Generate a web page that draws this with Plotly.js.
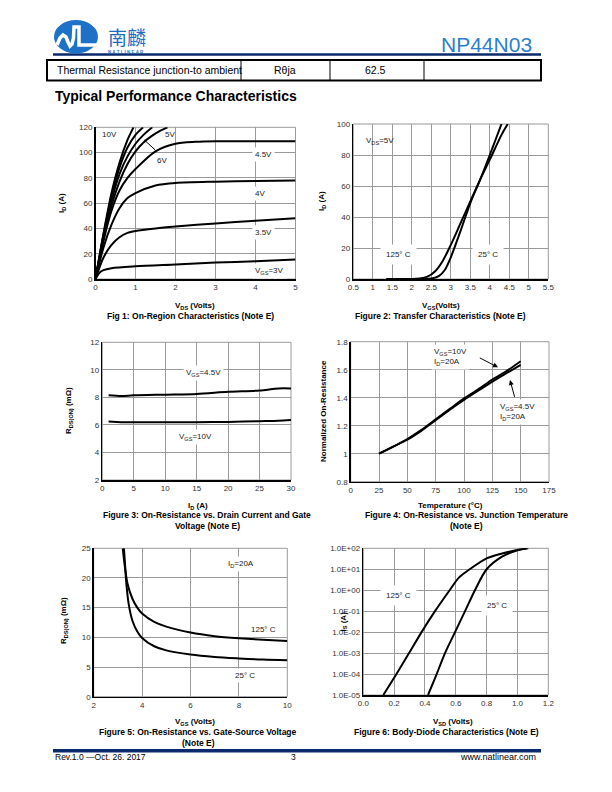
<!DOCTYPE html>
<html><head><meta charset="utf-8">
<script src="https://cdn.plot.ly/plotly-3.0.1.min.js"></script>
<style>html,body{margin:0;padding:0;background:#fff}#chart{width:612px;height:792px}</style>
</head><body><div id="chart"></div>
<script>
// ---------- DATA ----------
// Fig 1: On-region characteristics (VDS V, ID A)
const fig1_vgs10_x = [0,0.2,0.4,0.6,0.8,0.95];
const fig1_vgs10_y = [0,36,68,92,110,120];
const fig1_vgsX_x  = [0,0.2,0.4,0.6,0.8,1.0,1.19];
const fig1_vgsX_y  = [0,35,65,88,104,114,120];
const fig1_vgs6_x  = [0,0.2,0.4,0.6,0.8,1.0,1.2,1.42];
const fig1_vgs6_y  = [0,34,62,83,97,107,114,120];
const fig1_vgs5_x  = [0,0.2,0.4,0.6,0.8,1.0,1.2,1.4,1.6,1.8];
const fig1_vgs5_y  = [0,32,58,77,91,101,108,113,117,120];
const fig1_vgs45_x = [0,0.2,0.4,0.6,0.8,1.0,1.5,2,2.5,3,4,5];
const fig1_vgs45_y = [0,30,54,70,80,87,101,107,108.5,109,109,109];
const fig1_vgs4_x  = [0,0.2,0.4,0.6,0.8,1.0,1.5,2,3,4,5];
const fig1_vgs4_y  = [0,25,43,56,64,68,74,76,77,77.5,78];
const fig1_vgs35_x = [0,0.2,0.4,0.6,0.8,1,1.5,2,3,4,5];
const fig1_vgs35_y = [0,17,27,33,36.5,38,40,41.5,44,46,48];
const fig1_vgs3_x  = [0,0.1,0.2,0.4,1,2,3,4,5];
const fig1_vgs3_y  = [0,5,7,8.5,10,11.5,13,14,15.5];

// Fig 2: Transfer characteristics (VGS V, ID A)
const fig2_t125_x = [1.35,2.0,2.2,2.4,2.6,2.8,3.0,3.25,3.5,3.75,4.0,4.3,4.46];
const fig2_t125_y = [0,0,0.3,1.5,5,12,22,36,50,64,77,93,100];
const fig2_t25_x  = [1.35,2.3,2.5,2.7,2.85,3.0,3.25,3.5,3.75,4.0,4.15,4.3];
const fig2_t25_y  = [0,0,0.3,2,6,14,31,49,64,80,90,100];

// Fig 3: RDS(ON) vs ID (A, mOhm)
const fig3_id = [1,3,5,10,15,20,25,28,30];
const fig3_vgs45 = [8.15,8.1,8.15,8.2,8.25,8.4,8.5,8.65,8.65];
const fig3_vgs10 = [6.25,6.2,6.2,6.2,6.2,6.22,6.27,6.3,6.35];

// Fig 4: Normalized RDS(ON) vs temperature
const fig4_temp = [25,37.5,50,62.5,75,87.5,100,112.5,125,137.5,150];
const fig4_vgs10 = [1.0,1.05,1.105,1.17,1.245,1.32,1.395,1.46,1.53,1.59,1.66];
const fig4_vgs45 = [1.0,1.05,1.1,1.165,1.24,1.315,1.385,1.45,1.515,1.575,1.635];

// Fig 5: RDS(ON) vs VGS (V, mOhm)
const fig5_t125_x = [3.2,3.3,3.4,3.6,3.8,4,4.5,5,6,7,8,9,10];
const fig5_t125_y = [25,21.5,19,16.5,15,14,12.6,11.8,10.8,10.2,9.85,9.6,9.4];
const fig5_t25_x  = [3.25,3.3,3.35,3.45,3.6,3.8,4,4.5,5,6,7,8,9,10];
const fig5_t25_y  = [25,22,19,15.5,12.8,11,9.9,8.5,7.8,7.1,6.7,6.45,6.25,6.15];

// Fig 6: Body diode (VSD V, IS A)
const fig6_t125_x = [0.13,0.215,0.297,0.378,0.465,0.56,0.62,0.69,0.8,0.9,1.0,1.06];
const fig6_t125_y = [1e-5,1e-4,1e-3,1e-2,1e-1,1,4,10,33,56,83,100];
const fig6_t25_x  = [0.42,0.476,0.53,0.595,0.66,0.724,0.8,0.9,1.0,1.07];
const fig6_t25_y  = [1e-5,1e-4,1e-3,1e-2,1e-1,1,10,40,80,100];
const fig6_tickvals = [1e-5,1e-4,1e-3,1e-2,1e-1,1,10,100];
const fig6_ticktext = ["1.0E-05","1.0E-04","1.0E-03","1.0E-02","1.0E-01","1.0E+00","1.0E+01","1.0E+02"];

// ---------- LAYOUT HELPERS ----------
const W = 612, H = 792;
const px = x => x / W;
const py = y => 1 - y / H;
const FONT = 'Arial, "Liberation Sans", sans-serif';
const GRID = '#9a9a9a';

function xa(x0, x1, anchor, extra) {
  return Object.assign({domain:[px(x0),px(x1)], anchor:anchor, showgrid:true, gridcolor:GRID, gridwidth:1,
    showline:true, linecolor:'#000', linewidth:1.5, ticks:'', zeroline:false, automargin:false,
    tickfont:{family:FONT,size:8,color:'#333'}, fixedrange:true}, extra);
}
function ya(y0, y1, anchor, extra) {
  return Object.assign({domain:[py(y1),py(y0)], anchor:anchor, showgrid:true, gridcolor:GRID, gridwidth:1,
    showline:true, linecolor:'#000', linewidth:1.5, ticks:'', zeroline:false, automargin:false,
    tickfont:{family:FONT,size:8,color:'#333'}, fixedrange:true}, extra);
}
function line(x, y, xaxis, yaxis, name) {
  return {x:x, y:y, xaxis:xaxis, yaxis:yaxis, name:name, type:'scatter', mode:'lines',
    line:{color:'#000', width:2, shape:'spline', smoothing:0.8}, showlegend:false, hoverinfo:'skip'};
}

const data = [
  line(fig1_vgs10_x, fig1_vgs10_y, 'x', 'y', 'VGS=10V'),
  line(fig1_vgsX_x, fig1_vgsX_y, 'x', 'y', 'VGS (unlabelled)'),
  line(fig1_vgs6_x, fig1_vgs6_y, 'x', 'y', 'VGS=6V'),
  line(fig1_vgs5_x, fig1_vgs5_y, 'x', 'y', 'VGS=5V'),
  line(fig1_vgs45_x, fig1_vgs45_y, 'x', 'y', 'VGS=4.5V'),
  line(fig1_vgs4_x, fig1_vgs4_y, 'x', 'y', 'VGS=4V'),
  line(fig1_vgs35_x, fig1_vgs35_y, 'x', 'y', 'VGS=3.5V'),
  line(fig1_vgs3_x, fig1_vgs3_y, 'x', 'y', 'VGS=3V'),
  line(fig2_t125_x, fig2_t125_y, 'x2', 'y2', '125C'),
  line(fig2_t25_x, fig2_t25_y, 'x2', 'y2', '25C'),
  line(fig3_id, fig3_vgs45, 'x3', 'y3', 'VGS=4.5V'),
  line(fig3_id, fig3_vgs10, 'x3', 'y3', 'VGS=10V'),
  line(fig4_temp, fig4_vgs10, 'x4', 'y4', 'VGS=10V'),
  line(fig4_temp, fig4_vgs45, 'x4', 'y4', 'VGS=4.5V'),
  line(fig5_t125_x, fig5_t125_y, 'x5', 'y5', '125C'),
  line(fig5_t25_x, fig5_t25_y, 'x5', 'y5', '25C'),
  line(fig6_t125_x, fig6_t125_y, 'x6', 'y6', '125C'),
  line(fig6_t25_x, fig6_t25_y, 'x6', 'y6', '25C')
];

const ann = [];
function T(text, x, y, o) {
  ann.push(Object.assign({text:text, x:x, y:y, xref:'paper', yref:'paper', showarrow:false,
    font:{family:FONT, size:8, color:'#000'}, xanchor:'center', yanchor:'middle'}, o||{}));
}
function TP(text, xpix, ypix, o) { T(text, px(xpix), py(ypix), o); }
function D(text, x, y, xr, yr, o) {
  ann.push(Object.assign({text:text, x:x, y:y, xref:xr, yref:yr, showarrow:false,
    font:{family:FONT, size:8, color:'#222'}, xanchor:'center', yanchor:'middle'}, o||{}));
}
const WB = {bgcolor:'#fff', borderpad:2};
const BOLD8 = {family:FONT, size:8, color:'#000', weight:'bold'};
const BOLD85 = {family:FONT, size:8.5, color:'#000', weight:'bold'};

// Header texts
TP('NP44N03', 487, 45, {font:{family:FONT, size:21, color:'#2a7fd0'}});
TP('南麟', 127, 36.5, {font:{family:'"Noto Sans CJK SC"', size:19, color:'#1d6ec2'}});
TP('N A T L I N E A R', 126, 52.3, {font:{family:FONT, size:4.5, color:'#1d6ec2', weight:'bold'}});
TP('Thermal Resistance junction-to ambient', 55, 70.5, {xanchor:'left', font:{family:FONT, size:10.5, color:'#000'}});
TP('Rθja', 285, 70.5, {font:{family:FONT, size:10.5, color:'#000'}});
TP('62.5', 375, 70.5, {font:{family:FONT, size:10.5, color:'#000'}});
TP('<b>Typical Performance Characteristics</b>', 53, 96, {xanchor:'left', font:{family:FONT, size:14, color:'#000'}});

// Footer
TP('Rev.1.0 \u2014Oct. 26. 2017', 53, 757, {xanchor:'left', font:{family:FONT, size:8.5, color:'#000'}});
TP('3', 293, 757, {font:{family:FONT, size:8.5, color:'#000'}});
TP('www.natlinear.com', 538, 757, {xanchor:'right', font:{family:FONT, size:9, color:'#000'}});

// Axis titles and captions
TP('V<sub>DS</sub> (Volts)', 195, 306, {font:BOLD8});
TP('Fig 1: On-Region Characteristics (Note E)', 190, 316, {font:BOLD85});
TP('I<sub>D</sub> (A)', 62, 203, {textangle:-90, font:BOLD8});

TP('V<sub>GS</sub>(Volts)', 441, 306, {font:BOLD8});
TP('Figure 2: Transfer Characteristics (Note E)', 440, 316, {font:BOLD85});
TP('I<sub>D</sub> (A)', 322, 201, {textangle:-90, font:BOLD8});

TP('I<sub>D</sub> (A)', 198, 506, {font:BOLD8});
TP('Figure 3: On-Resistance vs. Drain Current and Gate', 207, 515, {font:BOLD85});
TP('Voltage (Note E)', 207, 525.5, {font:BOLD85});
TP('R<sub>DS(ON)</sub> (mΩ)', 69, 411, {textangle:-90, font:BOLD8});

TP('Temperature (°C)', 450, 505, {font:BOLD8});
TP('Figure 4: On-Resistance vs. Junction Temperature', 466, 515, {font:BOLD85});
TP('(Note E)', 466, 525.5, {font:BOLD85});
TP('Normalized On-Resistance', 323, 411, {textangle:-90, font:BOLD8});

TP('V<sub>GS</sub> (Volts)', 195, 722, {font:BOLD8});
TP('Figure 5: On-Resistance vs. Gate-Source Voltage', 198, 732, {font:BOLD85});
TP('(Note E)', 198, 742.5, {font:BOLD85});
TP('R<sub>DS(ON)</sub> (mΩ)', 64, 621, {textangle:-90, font:BOLD8});

TP('V<sub>SD</sub> (Volts)', 453, 722, {font:BOLD8});
TP('Figure 6: Body-Diode Characteristics (Note E)', 446, 732, {font:BOLD85});
TP('I<sub>S</sub> (A)', 343, 621.5, {textangle:-90, font:BOLD8});

// In-plot labels
D('10V', 0.36, 114.5, 'x', 'y');
D('5V', 1.85, 114.5, 'x', 'y');
D('6V', 1.65, 94, 'x', 'y');
D('4.5V', 4.2, 98.5, 'x', 'y', WB);
D('4V', 4.1, 68, 'x', 'y', WB);
D('3.5V', 4.2, 37, 'x', 'y', WB);
D('V<sub>GS</sub>=3V', 4.36, 6, 'x', 'y', WB);
ann.push({x:1.22, y:110, ax:1.53, ay:101, xref:'x', yref:'y', axref:'x', ayref:'y', text:'', showarrow:true, arrowhead:0, arrowwidth:1, arrowcolor:'#000'});

D('V<sub>DS</sub>=5V', 1.18, 89, 'x2', 'y2');
D('125° C', 1.65, 16, 'x2', 'y2', {bgcolor:'#fff', borderpad:5});
D('25° C', 3.96, 16, 'x2', 'y2', {bgcolor:'#fff', borderpad:5});

D('V<sub>GS</sub>=4.5V', 16.1, 9.8, 'x3', 'y3', WB);
D('V<sub>GS</sub>=10V', 14.8, 5.1, 'x3', 'y3', WB);

D('V<sub>GS</sub>=10V<br>I<sub>D</sub>=20A', 71, 1.69, 'x4', 'y4', Object.assign({xanchor:'left', align:'left'}, WB));
D('V<sub>GS</sub>=4.5V<br>I<sub>D</sub>=20A', 129, 1.3, 'x4', 'y4', Object.assign({xanchor:'left', align:'left'}, WB));
ann.push({x:130, y:1.617, ax:112.6, ay:1.69, xref:'x4', yref:'y4', axref:'x4', ayref:'y4', text:'', showarrow:true, arrowhead:2, arrowsize:1, arrowwidth:1, arrowcolor:'#000'});
ann.push({x:140.6, y:1.526, ax:145, ay:1.395, xref:'x4', yref:'y4', axref:'x4', ayref:'y4', text:'', showarrow:true, arrowhead:2, arrowsize:1, arrowwidth:1, arrowcolor:'#000'});

D('I<sub>D</sub>=20A', 8.1, 22.4, 'x5', 'y5', WB);
D('125° C', 9.0, 11.4, 'x5', 'y5', WB);
D('25° C', 8.25, 3.6, 'x5', 'y5', WB);

D('125° C', 0.23, -0.27, 'x6', 'y6', {bgcolor:'#fff', borderpad:5});
D('25° C', 0.865, -0.73, 'x6', 'y6', {bgcolor:'#fff', borderpad:5});

// Shapes: header, table, footer, logo, plot frames
const shapes = [];
function rectP(x0,y0,x1,y1,o){ shapes.push(Object.assign({type:'rect', xref:'paper', yref:'paper', x0:px(x0), x1:px(x1), y0:py(y0), y1:py(y1)}, o)); }
function lineP(x0,y0,x1,y1,o){ shapes.push(Object.assign({type:'line', xref:'paper', yref:'paper', x0:px(x0), x1:px(x1), y0:py(y0), y1:py(y1)}, o)); }
lineP(53,54.5,541,54.5,{line:{color:'#0b2a6e', width:2.5}});
rectP(47,60,541,80.5,{line:{color:'#000', width:2}});
lineP(241,60,241,80.5,{line:{color:'#000', width:1}});
lineP(330,60,330,80.5,{line:{color:'#000', width:1}});
lineP(424,60,424,80.5,{line:{color:'#000', width:1}});
lineP(53,750.8,541,750.8,{line:{color:'#0b2a6e', width:3.5}});
// logo
shapes.push({type:'circle', xref:'paper', yref:'paper', x0:px(54), x1:px(98), y0:py(53.5), y1:py(20), fillcolor:'#1d72c8', line:{width:0}});
function pth(pts){ return pts.map((p,i)=>(i?'L':'M')+px(p[0]).toFixed(5)+','+py(p[1]).toFixed(5)).join(' '); }
shapes.push({type:'path', xref:'paper', yref:'paper', path:pth([[57,45],[60,38],[63,35],[66,37],[68,42],[70,46],[72,44],[73.5,38],[74,27],[79,27],[79,45],[97,45]]), line:{color:'#fff', width:3.5}});

// plot frames (gray top/right edges)
['x','x2','x3','x4','x5','x6'].forEach((x,i)=>{
  const y = 'y'+(i?i+1:'');
  shapes.push({type:'rect', xref:x+' domain', yref:y+' domain', x0:0, x1:1, y0:0, y1:1, line:{color:GRID, width:1}, layer:'below'});
});

const layout = {
  width:W, height:H, margin:{l:0,r:0,t:0,b:0}, paper_bgcolor:'#fff', plot_bgcolor:'#fff',
  showlegend:false, font:{family:FONT, size:8, color:'#000'},
  xaxis:  xa(95.5, 295.5, 'y',  {range:[0,5], dtick:1}),
  yaxis:  ya(127.3, 279, 'x',   {range:[0,120], dtick:20}),
  xaxis2: xa(353.3, 548.3, 'y2', {range:[0.5,5.5], dtick:0.5}),
  yaxis2: ya(124, 279, 'x2',     {range:[0,100], dtick:20}),
  xaxis3: xa(102.3, 291, 'y3',   {range:[0,30], dtick:5}),
  yaxis3: ya(342.3, 480, 'x3',   {range:[2,12], dtick:2}),
  xaxis4: xa(350.7, 549, 'y4',   {range:[0,175], dtick:25}),
  yaxis4: ya(341.7, 481.7, 'x4', {range:[0.8,1.8], dtick:0.2}),
  xaxis5: xa(93.7, 287.3, 'y5',  {range:[2,10], dtick:2}),
  yaxis5: ya(548.3, 696.7, 'x5', {range:[0,25], dtick:5}),
  xaxis6: xa(363.3, 548.3, 'y6', {range:[0,1.2], dtick:0.2, tickformat:'.1f'}),
  yaxis6: ya(548.3, 695, 'x6',   {type:'log', range:[-5,2], tickvals:fig6_tickvals, ticktext:fig6_ticktext}),
  annotations: ann, shapes: shapes
};
Plotly.newPlot('chart', data, layout, {staticPlot:true, displayModeBar:false});
</script></body></html>
